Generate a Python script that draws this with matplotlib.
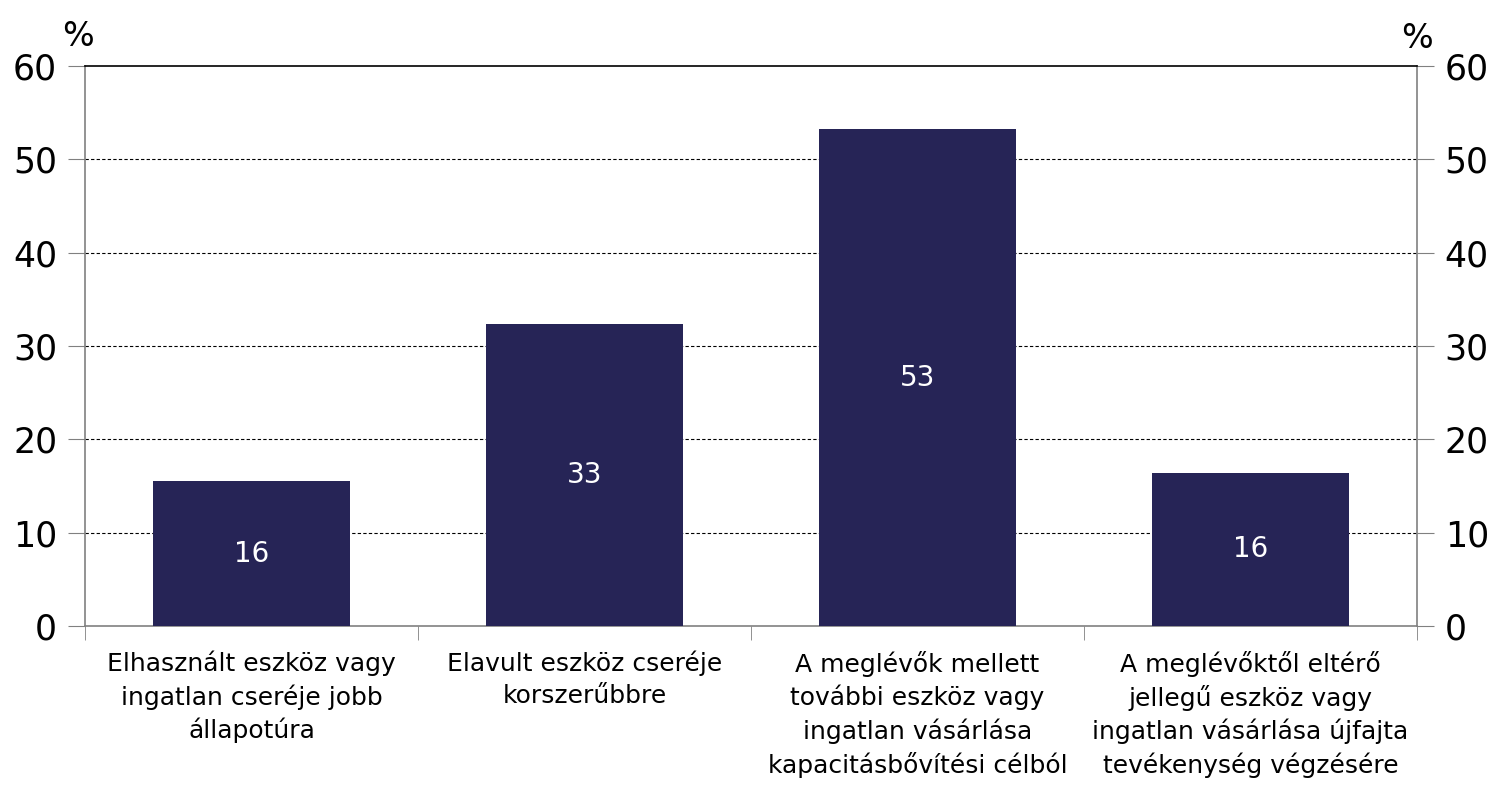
import numpy as np
import matplotlib.pyplot as plt
from matplotlib.ticker import FixedLocator

# Adatok
categories = [
    "Elhasznált eszköz vagy\ningatlan cseréje jobb\nállapotúra",
    "Elavult eszköz cseréje\nkorszerűbbre",
    "A meglévők mellett\ntovábbi eszköz vagy\ningatlan vásárlása\nkapacitásbővítési célból",
    "A meglévőktől eltérő\njellegű eszköz vagy\ningatlan vásárlása újfajta\ntevékenység végzésére",
]
values = [15.5, 32.4, 53.2, 16.4]
value_labels = ["16", "33", "53", "16"]
yticks = [0, 10, 20, 30, 40, 50, 60]

bar_color = "#262456"
gray = "#808080"

fig = plt.figure(figsize=(15.04, 8.08), dpi=100)
ax = fig.add_axes([85 / 1504, 182 / 808, 1332 / 1504, 560 / 808])

x = np.arange(len(categories))
bars = ax.bar(x, values, width=0.59, color=bar_color, zorder=3)

for b, lab in zip(bars, value_labels):
    ax.text(b.get_x() + b.get_width() / 2, b.get_height() / 2, lab,
            ha="center", va="center", color="white", fontsize=20, zorder=4)

ax.set_xlim(-0.5, len(categories) - 0.5)
ax.set_ylim(0, 60)
ax.set_yticks(yticks)
ax.tick_params(axis="y", which="major", direction="out", length=12, color=gray,
               labelsize=25, left=True, right=True, labelleft=True, labelright=True, pad=8)

ax.set_xticks(x)
ax.set_xticklabels(categories, fontsize=18, linespacing=1.38)
ax.tick_params(axis="x", which="major", length=0, pad=18)
ax.xaxis.set_minor_locator(FixedLocator(np.arange(-0.5, len(categories), 1.0)))
ax.tick_params(axis="x", which="minor", direction="out", length=10, color=gray)

# Rácsvonalak
for yv in yticks[1:-1]:
    ax.axhline(yv, color="black", linestyle=(0, (3, 2)), linewidth=0.8, zorder=1)

for side in ["left", "right", "bottom"]:
    ax.spines[side].set_color(gray)
    ax.spines[side].set_linewidth(1.2)
ax.spines["top"].set_color("black")
ax.spines["top"].set_linewidth(1.2)

fig.text(78 / 1504, 1 - 36 / 808, "%", ha="center", va="center", fontsize=24)
fig.text(1417 / 1504, 1 - 38 / 808, "%", ha="center", va="center", fontsize=24)

plt.savefig("out.png", dpi=100)
